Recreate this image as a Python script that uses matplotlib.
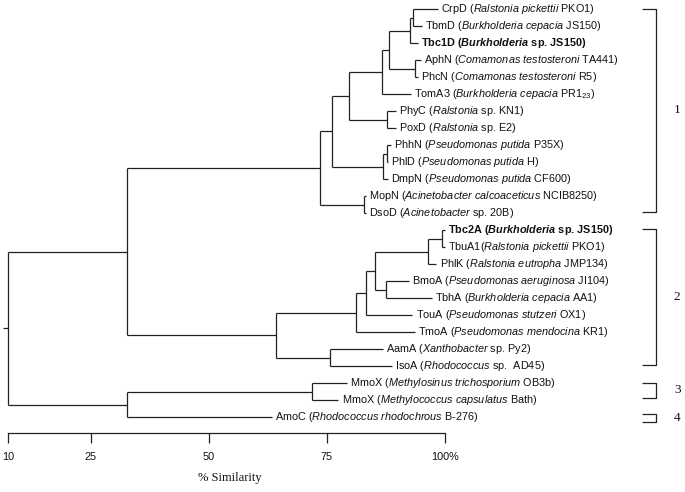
import matplotlib
matplotlib.use("Agg")
import matplotlib.pyplot as plt

plt.rcParams['mathtext.fontset'] = 'custom'
plt.rcParams['mathtext.rm'] = 'Liberation Sans'
plt.rcParams['mathtext.it'] = 'Liberation Sans:italic'
plt.rcParams['mathtext.bf'] = 'Liberation Sans:bold'
plt.rcParams['mathtext.bfit'] = 'Liberation Sans:italic:bold'

# ---------------- data ----------------
enzymes = ["CrpD", "TbmD", "Tbc1D", "AphN", "PhcN", "TomA3", "PhyC", "PoxD",
           "PhhN", "PhlD", "DmpN", "MopN", "DsoD", "Tbc2A", "TbuA1", "PhlK",
           "BmoA", "TbhA", "TouA", "TmoA", "AamA", "IsoA", "MmoX", "MmoX", "AmoC"]
species = ["Ralstonia pickettii", "Burkholderia cepacia", "Burkholderia",
           "Comamonas testosteroni", "Comamonas testosteroni", "Burkholderia cepacia",
           "Ralstonia", "Ralstonia", "Pseudomonas putida", "Pseudomonas putida",
           "Pseudomonas putida", "Acinetobacter calcoaceticus", "Acinetobacter",
           "Burkholderia", "Ralstonia pickettii", "Ralstonia eutropha",
           "Pseudomonas aeruginosa", "Burkholderia cepacia", "Pseudomonas stutzeri",
           "Pseudomonas mendocina", "Xanthobacter", "Rhodococcus",
           "Methylosinus trichosporium", "Methylococcus capsulatus",
           "Rhodococcus rhodochrous"]
strains = ["PKO1", "JS150", "sp. JS150", "TA441", "R5", "PR1$_{23}$", "sp. KN1", "sp. E2",
           "P35X", "H", "CF600", "NCIB8250", "sp. 20B", "sp. JS150", "PKO1", "JMP134",
           "JI104", "AA1", "OX1", "KR1", "sp. Py2", "sp.  AD45", "OB3b", "Bath", "B-276"]
bold_leaves = ["Tbc1D", "Tbc2A"]
no_space_before_paren = ["TbuA1"]

# % similarity at which each leaf branch ends
leaf_similarity = [98.5, 95.1, 94.3, 94.9, 94.3, 92.8, 89.6, 89.6, 88.6, 87.9,
                   87.9, 83.3, 83.3, 100.0, 99.9, 98.2, 92.4, 97.2, 93.1, 93.6,
                   86.9, 88.7, 79.2, 77.4, 63.3]

# internal nodes: (child1, child2, % similarity); ids >= 25 refer to earlier nodes
merges = [
    (0, 1, 93.2), (25, 2, 92.6), (3, 4, 93.6), (26, 27, 88.2), (28, 5, 86.6),
    (6, 7, 87.8), (29, 30, 79.7), (8, 9, 87.7), (32, 10, 86.9), (31, 33, 76.0),
    (11, 12, 82.9), (34, 35, 73.5),
    (13, 14, 99.3), (37, 15, 96.5), (16, 17, 87.5), (38, 39, 85.2), (40, 18, 83.3),
    (41, 19, 81.1), (20, 21, 75.6), (42, 43, 64.2), (36, 44, 32.6),
    (22, 23, 71.8), (46, 24, 32.6), (45, 47, 7.4),
]
root_stub = 6.35

cluster_names = ["1", "2", "3", "4"]
cluster_spans = [(0.0, 11.9), (12.94, 20.9), (21.96, 22.88), (23.82, 24.26)]

tick_positions = [7.4, 25, 50, 75, 100]
tick_labels = ["10", "25", "50", "75", "100%"]

# ---------------- figure ----------------
W, H = 685, 492
fig = plt.figure(figsize=(W / 100, H / 100), dpi=100)
bottom = (H - 433.3) / H
ax = fig.add_axes([0, bottom, 1, 1 - bottom])
ax.set_xlim(5.72, 150.85)
ax.set_ylim(24.94, -0.547)

line_kw = dict(color="#222222", lw=0.9, solid_capstyle="butt")

n = len(enzymes)
xs = list(leaf_similarity)
ys = list(range(n))
for a, b, h in merges:
    xs.append(h)
    ys.append((ys[a] + ys[b]) / 2)
    ax.plot([h, h], [ys[a], ys[b]], **line_kw)
    ax.plot([h, xs[a]], [ys[a], ys[a]], **line_kw)
    ax.plot([h, xs[b]], [ys[b], ys[b]], **line_kw)
ax.plot([root_stub, xs[-1]], [ys[-1], ys[-1]], **line_kw)

for i in range(n):
    sp = species[i].replace(" ", r"\ ")
    isbold = enzymes[i] in bold_leaves
    sp_tex = (r"$\mathbfit{%s}$" if isbold else r"$\mathit{%s}$") % sp
    sep = "(" if enzymes[i] in no_space_before_paren else " ("
    label = f"{enzymes[i]}{sep}{sp_tex} {strains[i]})"
    ax.text(leaf_similarity[i] + 0.7, i, label, fontsize=7.8,
            family="Liberation Sans", fontweight="bold" if isbold else "normal",
            va="center", ha="left", color="#111111")

bx0, bx1 = 141.8, 144.6
for name, (y0, y1) in zip(cluster_names, cluster_spans):
    ax.plot([bx0, bx1, bx1, bx0], [y0, y0, y1, y1], **line_kw)
    ax.text(149.2, (y0 + y1) / 2, name, fontsize=9.5, family="Liberation Serif",
            ha="center", va="center", color="#111111")

for s in ["top", "left", "right"]:
    ax.spines[s].set_visible(False)
ax.spines["bottom"].set_bounds(tick_positions[0], tick_positions[-1])
ax.spines["bottom"].set_linewidth(0.9)
ax.spines["bottom"].set_color("#222222")
ax.set_yticks([])
ax.set_xticks(tick_positions)
ax.set_xticklabels(tick_labels, fontsize=7.8, family="Liberation Sans")
ax.tick_params(axis="x", direction="out", length=7.2, width=0.9, pad=6,
               color="#222222", labelcolor="#111111")
ax.patch.set_visible(False)

fig.text(230 / W, 1 - 478 / H, "% Similarity", fontsize=9, family="Liberation Serif",
         ha="center", va="center", color="#111111")

fig.savefig("out.png", dpi=100, facecolor="white")
